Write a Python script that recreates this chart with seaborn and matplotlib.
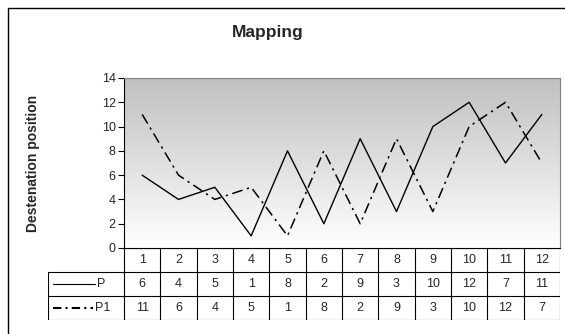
import numpy as np
import pandas as pd
import matplotlib
matplotlib.use("Agg")
import matplotlib.pyplot as plt
import seaborn as sns
from matplotlib.patches import Rectangle
from matplotlib.lines import Line2D

positions = [1, 2, 3, 4, 5, 6, 7, 8, 9, 10, 11, 12]
p_values = [6, 4, 5, 1, 8, 2, 9, 3, 10, 12, 7, 11]
p1_values = [11, 6, 4, 5, 1, 8, 2, 9, 3, 10, 12, 7]
y_ticks = [0, 2, 4, 6, 8, 10, 12, 14]

sns.set_style("white")
plt.rcParams["font.family"] = ["Liberation Sans", "DejaVu Sans"]

W, H = 565, 334
fig = plt.figure(figsize=(W / 100, H / 100), dpi=100)

# plot area in pixel coords
left, right, top, bottom = 124, 560, 78, 248
ax = fig.add_axes([left / W, 1 - bottom / H, (right - left) / W, (bottom - top) / H])

# gray gradient background, dark at top
grad = np.linspace(0, 1, 256).reshape(-1, 1)
cmap = matplotlib.colors.LinearSegmentedColormap.from_list("g", ["#c0c0c0", "#ffffff"])
ax.imshow(grad, cmap=cmap, aspect="auto", extent=[0.5, 12.5, 0, 14],
          origin="upper", zorder=0)

df = pd.DataFrame({"x": positions, "P": p_values, "P1": p1_values})
sns.lineplot(data=df, x="x", y="P", ax=ax, color="black", lw=1, zorder=3)
sns.lineplot(data=df, x="x", y="P1", ax=ax, color="black", lw=1.1,
             linestyle=(0, (7, 3, 1.5, 3)), zorder=3)

ax.set_xlim(0.5, 12.5)
ax.set_ylim(0, 14)
ax.set_yticks(y_ticks)
ax.set_xticks([])
ax.set_xlabel("")
ax.set_ylabel("")
ax.tick_params(axis="y", left=True, length=4, width=0.8, labelsize=9, pad=2, color="black")
for s in ["top", "right"]:
    ax.spines[s].set_color("#808080")
    ax.spines[s].set_linewidth(0.8)
for s in ["left", "bottom"]:
    ax.spines[s].set_color("black")
    ax.spines[s].set_linewidth(0.8)

fig.text(268 / W, 1 - 33 / H, "Mapping", ha="center", va="center",
         fontsize=12.5, fontweight="bold")
fig.text(33 / W, 1 - 163 / H, "Destenation position", ha="center", va="center",
         rotation=90, fontsize=10, fontweight="bold")

# data table below the plot
t_left, t_bottom = 48, 320
tax = fig.add_axes([t_left / W, 1 - t_bottom / H, (right - t_left) / W, (t_bottom - bottom) / H])
colw = (right - left) / 12.0
px2x = lambda px: 0.5 + (px - left) / colw
tax.set_xlim(px2x(t_left), 12.5)
tax.set_ylim(3, 0)
tax.axis("off")

lk = dict(color="black", lw=0.8)
# horizontal lines
tax.plot([0.5, 12.5], [0, 0], **lk)
for r in [1, 2, 3]:
    tax.plot([px2x(t_left), 12.5], [r, r], **lk)
# vertical lines
tax.plot([px2x(t_left)] * 2, [1, 3], **lk)
for i in range(13):
    tax.plot([0.5 + i] * 2, [0, 3], **lk)

fs = 9
for i, x in enumerate(positions):
    tax.text(x, 0.5, str(x), ha="center", va="center", fontsize=fs)
    tax.text(x, 1.5, str(p_values[i]), ha="center", va="center", fontsize=fs)
    tax.text(x, 2.5, str(p1_values[i]), ha="center", va="center", fontsize=fs)

tax.add_line(Line2D([px2x(53), px2x(95)], [1.5, 1.5], color="black", lw=0.8))
tax.text(px2x(97), 1.5, "P", ha="left", va="center", fontsize=fs)
tax.add_line(Line2D([px2x(53), px2x(93)], [2.5, 2.5], color="black", lw=1.5,
                    linestyle=(0, (4, 2, 1, 2))))
tax.text(px2x(95), 2.5, "P1", ha="left", va="center", fontsize=fs)

# outer chart frame
fig.patches.append(Rectangle((8 / W, -0.1), 1.2, 1 - 8 / H + 0.1,
                             transform=fig.transFigure, fill=False,
                             edgecolor="black", lw=1))

fig.savefig("out.png", dpi=100)
